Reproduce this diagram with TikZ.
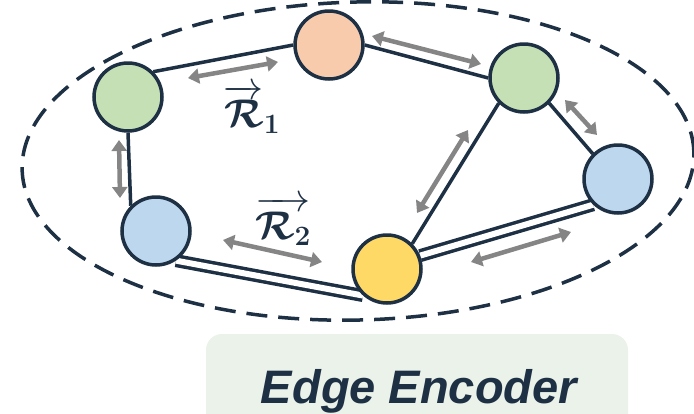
\RequirePackage{fix-cm}
\documentclass[tikz,border=0pt]{standalone}
\usepackage{amsmath}
\usepackage{bm}
\usepackage{fontspec}
\setsansfont{Liberation Sans}
\usetikzlibrary{%
    arrows.meta,%
    backgrounds
    }
\definecolor{navy}{RGB}{30,48,68}
\definecolor{nodegreen}{RGB}{197,224,180}
\definecolor{nodepeach}{RGB}{248,203,173}
\definecolor{nodeblue}{RGB}{189,215,238}
\definecolor{nodeyellow}{RGB}{255,217,102}
\definecolor{arrowgray}{RGB}{133,133,133}
\definecolor{boxgreen}{RGB}{235,242,233}
\tikzset{
  vertex/.style={
    circle,
    draw=navy,
    line width=3.5pt,
    minimum size=68pt,
    inner sep=0pt
  },
  link/.style={
    draw=navy,
    line width=3.5pt
  },
  dlink/.style={
    link,
    double=white,
    double distance=6pt
  },
  biarrow/.style={
    {Triangle[length=11pt,width=15pt]}-{Triangle[length=11pt,width=15pt]},
    draw=arrowgray,
    line width=4.5pt
  },
  hull/.style={
    draw=navy,
    line width=3.5pt,
    dash pattern=on 21pt off 11pt
  },
  relname/.style={
    text=navy,
    font=\fontsize{40}{46}\selectfont,
    inner sep=0pt
  },
  title/.style={
    text=navy,
    font=\sffamily\bfseries\itshape\fontsize{47}{56}\selectfont,
    anchor=base,
    inner sep=0pt
  },
}

\begin{document}
\begin{tikzpicture}[x=1pt,y=-1pt]
\useasboundingbox (0,0) rectangle (694,413);
\clip (0,0) rectangle (694,413);

% encoder box
\path[fill=boxgreen, rounded corners=16pt]
  (206,334) rectangle (628,450);
\node[title]
  (enc)
  at (419,403)
  {Edge Encoder};

% graph
\draw[hull, rotate around={1.5:(358,161)}]
  (358,161) ellipse [x radius=336pt, y radius=159pt];

\node[vertex, fill=nodegreen]
  (green1)
  at (128,97) {};
\node[vertex, fill=nodepeach]
  (peach)
  at (329,45) {};
\node[vertex, fill=nodegreen]
  (green2)
  at (524,78) {};
\node[vertex, fill=nodeblue]
  (blue1)
  at (156,231) {};
\node[vertex, fill=nodeblue]
  (blue2)
  at (618,179) {};
\node[vertex, fill=nodeyellow]
  (yellow)
  at (387,269) {};

\begin{scope}[on background layer]
\draw[link]
  (green1.north east) -- (peach.west);
\draw[link]
  (peach.east) -- (green2.west);
\draw[link]
  (green1.south) -- (blue1.north west);
\draw[link]
  (green2.south west) -- (yellow.north east);
\draw[link]
  (green2.south east) -- (blue2.north west);
\draw[dlink]
  (blue1.-56) -- (yellow.228);
\draw[dlink]
  (yellow.22) -- (blue2.226);
\end{scope}

% relation arrows
\coordinate (a1s) at (188,78);
\coordinate (a1e) at (278,62);
\coordinate (a2s) at (372,36);
\coordinate (a2e) at (481,64);
\coordinate (a3s) at (119,140);
\coordinate (a3e) at (120,198);
\coordinate (a4s) at (223,240);
\coordinate (a4e) at (322,262);
\coordinate (a5s) at (468,130);
\coordinate (a5e) at (417,213);
\coordinate (a6s) at (565,100);
\coordinate (a6e) at (597,135);
\coordinate (a7s) at (471,262);
\coordinate (a7e) at (571,232);

\begin{scope}[biarrow]
\draw (a1s) -- (a1e);
\draw (a2s) -- (a2e);
\draw (a3s) -- (a3e);
\draw (a4s) -- (a4e);
\draw (a5s) -- (a5e);
\draw (a6s) -- (a6e);
\draw (a7s) -- (a7e);
\end{scope}

\node[relname]
  (rel1)
  at (252,109)
  {$\overrightarrow{\bm{\mathcal{R}}}_{\bm{1}}$};
\node[relname]
  (rel2)
  at (283,221)
  {$\overrightarrow{\bm{\mathcal{R}}_{\bm{2}}}$};
\end{tikzpicture}
\end{document}
